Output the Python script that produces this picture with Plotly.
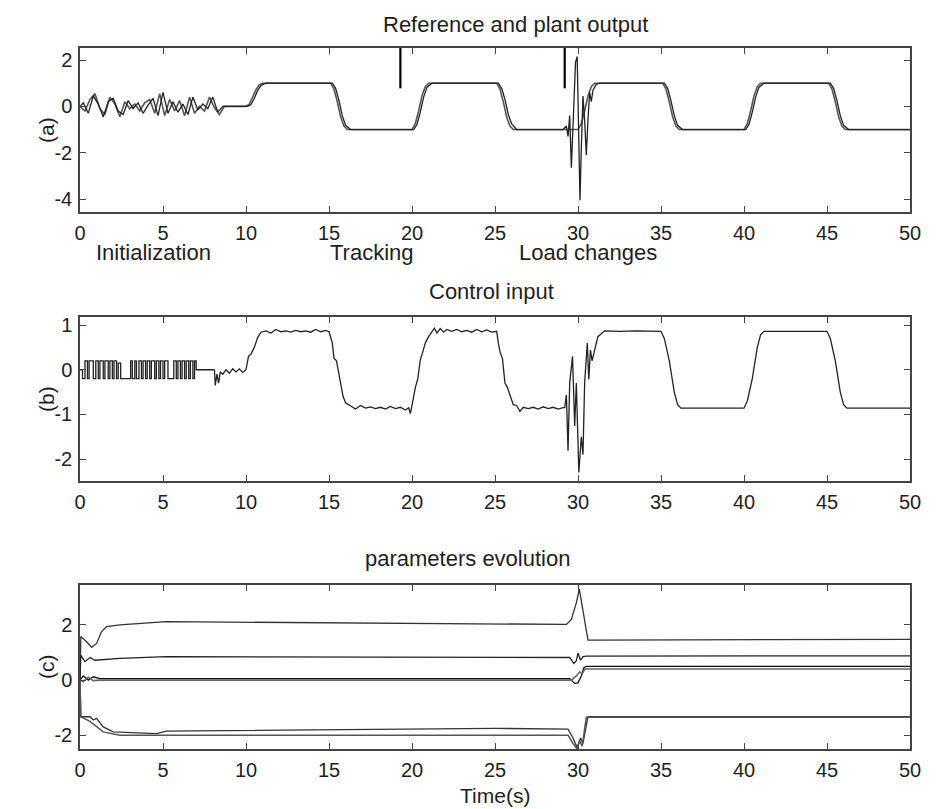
import plotly.graph_objects as go

# ---------------- Panel (a): reference and plant output ----------------
a_ref_t = [0.0, 0.3, 0.6, 0.9, 1.2, 1.5, 1.8, 2.1, 2.4, 2.7, 3.0, 3.3, 3.6, 3.9, 4.2, 4.5, 4.8, 5.1, 5.4, 5.7,
           6.0, 6.3, 6.6, 6.9, 7.2, 7.5, 7.8, 8.1, 8.4, 8.7,
           10.0, 10.2, 10.4, 10.6, 10.8, 11.0,
           15.1, 15.3, 15.5, 15.7, 15.9, 16.1,
           20.0, 20.2, 20.4, 20.6, 20.8, 21.0,
           25.1, 25.3, 25.5, 25.7, 25.9, 26.1,
           30.0, 30.2, 30.4, 30.6, 30.8, 31.0,
           35.1, 35.3, 35.5, 35.7, 35.9, 36.1,
           40.0, 40.2, 40.4, 40.6, 40.8, 41.0,
           45.1, 45.3, 45.5, 45.7, 45.9, 46.1,
           50.0]
a_ref_v = [0.0, -0.2, 0.3, 0.55, -0.1, -0.35, 0.4, 0.1, -0.45, 0.2, -0.1, 0.1, -0.2, 0.15, 0.3, -0.3, 0.55, -0.4, 0.3, -0.2,
           0.25, -0.4, 0.4, -0.3, 0.0, -0.2, 0.4, -0.05, -0.35, 0.0,
           0.0, 0.1, 0.4, 0.72, 0.93, 1.0,
           1.0, 0.75, 0.2, -0.45, -0.85, -1.0,
           -1.0, -0.75, -0.2, 0.45, 0.85, 1.0,
           1.0, 0.75, 0.2, -0.45, -0.85, -1.0,
           -1.0, -0.75, -0.2, 0.45, 0.85, 1.0,
           1.0, 0.75, 0.2, -0.45, -0.85, -1.0,
           -1.0, -0.75, -0.2, 0.45, 0.85, 1.0,
           1.0, 0.75, 0.2, -0.45, -0.85, -1.0,
           -1.0]

a_out_t = [0.0, 0.2, 0.5, 0.8, 1.1, 1.4, 1.7, 2.0, 2.3, 2.6, 2.9, 3.2, 3.5, 3.8, 4.1, 4.4, 4.7, 5.0, 5.3, 5.6,
           5.9, 6.2, 6.5, 6.8, 7.1, 7.4, 7.7, 8.0, 8.3, 8.6,
           10.1, 10.3, 10.5, 10.7, 10.9, 11.2,
           15.2, 15.4, 15.6, 15.8, 16.0, 16.3,
           20.1, 20.3, 20.5, 20.7, 20.9, 21.2,
           25.2, 25.4, 25.6, 25.8, 26.0, 26.3,
           29.1, 29.3, 29.4, 29.5, 29.6, 29.75, 29.85, 29.95, 30.05, 30.12, 30.2, 30.3, 30.4, 30.5, 30.6,
           30.7, 30.8, 30.9, 31.1, 31.3,
           35.2, 35.4, 35.6, 35.8, 36.0, 36.3,
           40.1, 40.3, 40.5, 40.7, 40.9, 41.2,
           45.2, 45.4, 45.6, 45.8, 46.0, 46.3,
           50.0]
a_out_v = [0.0, 0.15, -0.3, 0.45, 0.1, -0.45, 0.2, 0.35, -0.2, -0.35, 0.25, -0.1, 0.15, -0.3, 0.05, 0.35, -0.4, 0.6, -0.3, 0.2,
           -0.25, 0.1, -0.35, 0.4, -0.15, 0.1, -0.1, 0.4, -0.25, 0.0,
           0.0, 0.08, 0.35, 0.68, 0.9, 1.0,
           1.0, 0.78, 0.25, -0.4, -0.82, -1.0,
           -1.0, -0.78, -0.25, 0.4, 0.82, 1.0,
           1.0, 0.78, 0.3, -0.35, -0.75, -1.0,
           -1.0, -0.85, -1.3, -0.4, -2.65, -0.2, 1.9, 2.15, -1.5, -4.05, -1.8, 0.45, -0.6, -2.1, -0.6,
           0.6, 0.2, 0.7, 0.95, 1.0,
           1.0, 0.78, 0.25, -0.4, -0.82, -1.0,
           -1.0, -0.78, -0.25, 0.4, 0.82, 1.0,
           1.0, 0.78, 0.25, -0.4, -0.82, -1.0,
           -1.0]

# phase markers on panel (a)
marker_t = [19.3, 29.2]
marker_top = 2.52
marker_bottom = 0.78
phase_labels = ["Initialization", "Tracking", "Load changes"]
phase_label_t = [4.45, 17.6, 30.6]

# ---------------- Panel (b): control input ----------------
b_init_t = [0.0, 0.15, 0.3, 0.45, 0.55, 0.8, 0.95, 1.1, 1.2, 1.4, 1.5, 1.7, 1.8, 1.95, 2.05, 2.2, 2.3, 2.45,
            3.05, 3.15, 3.3, 3.4, 3.55, 3.7, 3.8, 3.95, 4.05, 4.2, 4.3, 4.5, 4.6, 4.75, 4.85, 5.0, 5.1, 5.3,
            5.65, 5.8, 5.9, 6.05, 6.15, 6.3, 6.4, 6.55, 6.65, 6.8, 6.9, 7.0, 8.1]
b_init_v = [0.0, -0.2, 0.2, -0.2, 0.2, -0.2, 0.2, -0.2, 0.2, -0.2, 0.2, -0.2, 0.2, -0.2, 0.2, -0.2, 0.15, -0.2,
            0.2, -0.2, 0.2, -0.2, 0.2, -0.2, 0.2, -0.2, 0.2, -0.2, 0.2, -0.2, 0.2, -0.2, 0.2, -0.2, 0.2, -0.2,
            0.2, -0.2, 0.2, -0.2, 0.2, -0.2, 0.2, -0.2, 0.2, -0.2, 0.2, 0.0, 0.0]

b_t = [8.1, 8.15, 8.25, 8.35, 8.45, 8.6, 8.8, 9.0, 9.2, 9.4, 9.6, 9.8, 10.0, 10.15, 10.3, 10.5, 10.7, 10.9,
       11.2, 11.5, 11.8, 12.1, 12.4, 12.7, 13.0, 13.3, 13.6, 13.9, 14.2, 14.5, 14.8, 15.0, 15.2, 15.3, 15.45,
       15.55, 15.7, 15.85, 16.0, 16.3, 16.6, 16.9, 17.2, 17.5, 17.8, 18.1, 18.4, 18.7, 19.0, 19.3, 19.6, 19.8,
       19.9, 20.0, 20.2, 20.35, 20.5, 20.65, 20.8, 21.0, 21.2, 21.35, 21.5, 21.7, 21.9, 22.1, 22.4, 22.7, 23.0,
       23.3, 23.6, 23.9, 24.2, 24.5, 24.8, 25.1, 25.2, 25.3, 25.45, 25.6, 25.75, 25.9, 26.1, 26.3, 26.5, 26.7,
       27.0, 27.3, 27.6, 27.9, 28.2, 28.5, 28.8,
       29.1, 29.2, 29.3, 29.4, 29.5, 29.67, 29.8, 29.9, 30.05, 30.2,
       30.3, 30.4, 30.56, 30.65, 30.75, 30.85, 31.0, 31.2, 31.6, 32.5,
       33.5, 34.5, 35.0, 35.2, 35.5, 35.8, 36.0, 36.2, 40.0, 40.2,
       40.5, 40.8, 41.0, 41.2, 45.0, 45.2, 45.5, 45.8, 46.0, 46.2,
       50.0]
b_v = [0.0, -0.35, -0.1, -0.3, -0.05, -0.1, 0.0, -0.08, 0.02, -0.05, 0.02, -0.06, 0.0, 0.3, 0.35, 0.5, 0.72, 0.84,
       0.87, 0.82, 0.9, 0.85, 0.87, 0.84, 0.88, 0.85, 0.87, 0.84, 0.9, 0.85, 0.88, 0.85, 0.6, 0.26, 0.2,
       0.0, -0.37, -0.6, -0.74, -0.82, -0.88, -0.8, -0.86, -0.83, -0.87, -0.84, -0.88, -0.82, -0.87, -0.84, -0.9, -0.85,
       -0.98, -0.8, -0.4, -0.2, 0.22, 0.4, 0.6, 0.74, 0.85, 0.93, 0.82, 0.92, 0.84, 0.9, 0.86, 0.9, 0.85,
       0.88, 0.84, 0.9, 0.85, 0.89, 0.84, 0.86, 0.6, 0.4, 0.25, -0.3, -0.4, -0.55, -0.78, -0.8, -0.93, -0.84,
       -0.87, -0.84, -0.88, -0.83, -0.87, -0.84, -0.88,
       -0.85, -0.85, -0.56, -1.81, -0.3, 0.3, -1.26, -0.3, -2.3, -1.5,
       -1.9, -0.3, 0.6, -0.22, 0.44, 0.2, 0.44, 0.74, 0.87, 0.86,
       0.87, 0.86, 0.86, 0.7, 0.2, -0.5, -0.78, -0.86, -0.86, -0.7,
       -0.2, 0.5, 0.78, 0.86, 0.86, 0.7, 0.2, -0.5, -0.78, -0.86,
       -0.86]

# ---------------- Panel (c): parameters evolution ----------------
c1_t = [0.0, 0.05, 0.4, 0.7, 1.0, 1.3, 1.6, 2.4, 5.2, 13.8, 20.0, 25.0, 29.3, 29.6, 29.9, 30.08, 30.2, 30.6, 31.0, 50.0]
c1_v = [0.0, 1.58, 1.39, 1.19, 1.33, 1.76, 1.94, 2.0, 2.12, 2.08, 2.05, 2.02, 2.02, 2.2, 2.8, 3.3, 2.85, 1.45, 1.45, 1.48]
c2_t = [0.0, 0.05, 0.3, 0.6, 0.9, 2.4, 5.2, 29.5, 29.75, 29.9, 30.0, 30.15, 30.3, 30.5, 50.0]
c2_v = [0.0, 0.9, 0.67, 0.82, 0.72, 0.79, 0.85, 0.82, 0.6, 0.7, 0.98, 0.72, 0.85, 0.87, 0.88]
c3_t = [0.0, 0.2, 0.5, 0.8, 1.2, 29.5, 29.8, 30.0, 30.2, 30.35, 30.5, 50.0]
c3_v = [0.0, 0.15, 0.0, 0.12, 0.05, 0.05, -0.12, -0.1, 0.15, 0.45, 0.5, 0.5]
c4_t = [0.0, 0.2, 0.5, 0.8, 1.2, 29.6, 29.9, 30.1, 30.25, 30.4, 50.0]
c4_v = [0.0, -0.05, 0.1, -0.02, 0.0, 0.0, 0.15, 0.3, 0.22, 0.4, 0.4]
c5_t = [0.0, 0.05, 0.6, 0.8, 1.0, 1.4, 2.0, 4.6, 5.2, 12.6, 25.0, 29.4, 29.7, 29.95, 30.15, 30.3, 30.6, 50.0]
c5_v = [0.0, -1.33, -1.33, -1.45, -1.39, -1.7, -1.88, -1.94, -1.85, -1.82, -1.75, -1.78, -2.1, -2.45, -2.1, -2.3, -1.33, -1.33]
c6_t = [0.0, 0.05, 0.6, 1.4, 2.4, 29.4, 29.7, 29.95, 30.1, 30.25, 30.5, 50.0]
c6_v = [0.0, -1.33, -1.5, -1.88, -2.0, -2.0, -2.3, -2.5, -2.2, -2.4, -1.35, -1.35]

x_ticks = [0, 5, 10, 15, 20, 25, 30, 35, 40, 45, 50]
a_yticks = [-4, -2, 0, 2]
b_yticks = [-2, -1, 0, 1]
c_yticks = [-2, 0, 2]

panel_titles = ["Reference and plant output", "Control input", "parameters evolution"]
panel_labels = ["(a)", "(b)", "(c)"]
x_title = "Time(s)"

FONT = "Liberation Sans, Arial, sans-serif"
TXT = "#1e1e1e"
W, H = 938, 809
x0, x1 = 80, 910
panels_px = [(48, 212), (317, 481), (585, 749)]
yranges = [[-4.56, 2.52], [-2.49, 1.18], [-2.5, 3.45]]
ytick_sets = [a_yticks, b_yticks, c_yticks]

fig = go.Figure()

def add_line(t, v, k, color, width=1.4, shape="linear"):
    sfx = "" if k == 1 else str(k)
    fig.add_trace(go.Scatter(x=t, y=v, mode="lines", xaxis="x" + sfx, yaxis="y" + sfx,
                             line=dict(color=color, width=width, shape=shape),
                             hoverinfo="skip", showlegend=False))

add_line(a_ref_t, a_ref_v, 1, "#555555", 1.6)
add_line(a_out_t, a_out_v, 1, "#222222", 1.3)
for mt in marker_t:
    add_line([mt, mt], [marker_top, marker_bottom], 1, "#000000", 2.2)

add_line(b_init_t, b_init_v, 2, "#222222", 1.3, "hv")
add_line(b_t, b_v, 2, "#222222", 1.3)

add_line(c1_t, c1_v, 3, "#333333", 1.3)
add_line(c2_t, c2_v, 3, "#222222", 1.3)
add_line(c3_t, c3_v, 3, "#111111", 1.3)
add_line(c4_t, c4_v, 3, "#666666", 1.6)
add_line(c5_t, c5_v, 3, "#333333", 1.3)
add_line(c6_t, c6_v, 3, "#555555", 1.5)

layout = dict(width=W, height=H, autosize=False, margin=dict(l=0, r=0, t=0, b=0, pad=0),
              paper_bgcolor="white", plot_bgcolor="white",
              font=dict(family=FONT, size=20, color=TXT))
axis_common = dict(showgrid=False, zeroline=False, showline=True, linecolor="#444444", linewidth=1.5,
                   mirror="ticks", ticks="inside", ticklen=6, tickwidth=1.2, tickcolor="#444444",
                   ticklabelstandoff=2, automargin=False,
                   tickfont=dict(family=FONT, size=20, color=TXT))
annotations = []
for i, (top, bot) in enumerate(panels_px):
    sfx = "" if i == 0 else str(i + 1)
    dom_y = [1 - bot / H, 1 - top / H]
    layout["xaxis" + sfx] = dict(axis_common, domain=[x0 / W, x1 / W], range=[0, 50],
                                 tickvals=x_ticks, ticktext=[str(v) for v in x_ticks],
                                 anchor="y" + sfx)
    layout["yaxis" + sfx] = dict(axis_common, domain=dom_y, range=yranges[i],
                                 tickvals=ytick_sets[i], ticktext=[str(v) for v in ytick_sets[i]],
                                 anchor="x" + sfx)
    annotations.append(dict(text=panel_labels[i], xref="paper", yref="paper", x=46 / W,
                            y=1 - (top + bot) / 2 / H, textangle=-90, showarrow=False,
                            font=dict(family=FONT, size=21, color=TXT),
                            xanchor="center", yanchor="middle"))

title_px = [(515, 24), (491, 291), (467, 558)]
for txt, (cx, cy) in zip(panel_titles, title_px):
    annotations.append(dict(text=txt, xref="paper", yref="paper", x=cx / W, y=1 - cy / H,
                            showarrow=False, xanchor="center", yanchor="middle",
                            font=dict(family=FONT, size=22, color=TXT)))
for txt, tt in zip(phase_labels, phase_label_t):
    annotations.append(dict(text=txt, xref="x", yref="paper", x=tt, y=1 - 252 / H,
                            showarrow=False, xanchor="center", yanchor="middle",
                            font=dict(family=FONT, size=22, color=TXT)))
annotations.append(dict(text=x_title, xref="paper", yref="paper", x=495 / W, y=1 - 795 / H,
                        showarrow=False, xanchor="center", yanchor="middle",
                        font=dict(family=FONT, size=21, color=TXT)))
layout["annotations"] = annotations
fig.update_layout(**layout)
fig.write_html("out.html", config={"displayModeBar": False},
               post_script="document.body.style.margin='0';document.body.style.overflow='hidden';")
